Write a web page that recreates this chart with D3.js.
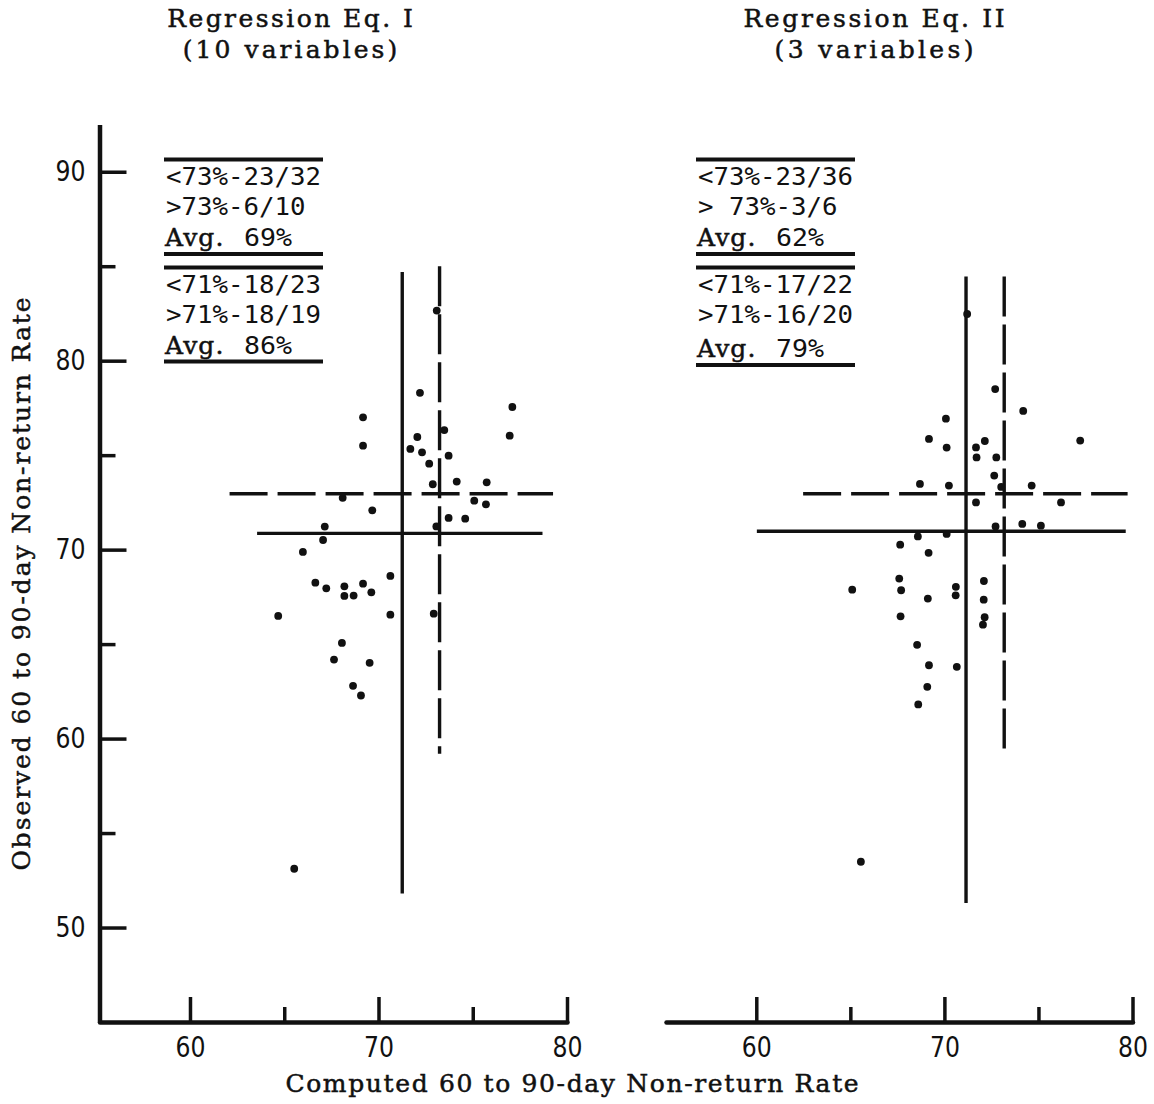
<!DOCTYPE html>
<html>
<head>
<meta charset="utf-8">
<script src="https://cdn.jsdelivr.net/npm/d3@7"></script>
<style>
  body { margin: 0; background: #fff; }
  svg { display: block; }
  .typed { font-family: "DejaVu Serif", "Liberation Serif", serif; font-size: 25px; fill: #111; stroke: #111; stroke-width: 0.5px; }
  .lettered { font-family: "DejaVu Sans Mono", monospace; font-size: 24px; fill: #111; }
  .tick text { font-family: "DejaVu Sans", sans-serif; font-size: 28px; fill: #111; }
</style>
</head>
<body>
<script>
/* global d3 */
(function() {
  'use strict';

  const titles = [['Regression Eq. I', '(10 variables)'], ['Regression Eq. II', '(3 variables)']];
  const xLabel = 'Computed 60 to 90-day Non-return Rate';
  const yLabel = 'Observed 60 to 90-day Non-return Rate';
  const xTickValues = [60, 65, 70, 75, 80];
  const yTickValues = [50, 55, 60, 65, 70, 75, 80, 85, 90];
  const majorTicks = [50, 60, 70, 80, 90];

  // Regression Eq. I points (computed, observed)
  const eq1Computed = [72.2, 77.1, 69.18, 73.49, 72.06, 76.96, 69.18, 71.69, 72.31, 73.72,
    72.69, 72.88, 74.15, 75.74, 68.1, 75.08, 75.7, 69.67, 73.72, 74.6,
    67.15, 73.07, 67.06, 65.99, 66.65, 67.23, 68.19, 69.18, 68.19, 68.68,
    69.62, 70.63, 64.68, 70.63, 72.93, 68.06, 67.64, 69.53, 68.65, 69.07,
    65.53, 73.09];
  const eq1Observed = [78.3, 77.55, 77.0, 76.33, 75.96, 76.03, 75.5, 75.33, 75.15, 74.97,
    74.55, 73.46, 73.6, 73.56, 72.74, 72.59, 72.4, 72.08, 71.68, 71.64,
    71.22, 71.23, 70.51, 69.88, 68.25, 67.95, 68.06, 68.2, 67.55, 67.57,
    67.74, 68.61, 66.49, 66.56, 66.61, 65.06, 64.18, 64.01, 62.79, 62.28,
    53.11, 82.65];

  // Regression Eq. II points (computed, observed)
  const eq2Computed = [72.7, 74.19, 70.08, 69.18, 77.22, 70.12, 72.15, 71.68, 71.71, 72.76,
    72.65, 68.7, 70.24, 74.64, 73.02, 71.68, 76.2, 72.72, 74.14, 75.13,
    68.59, 70.12, 67.65, 69.16, 65.1, 67.6, 67.7, 69.12, 70.61, 70.6,
    72.1, 72.09, 67.67, 72.14, 72.05, 68.55, 69.18, 70.66, 69.09, 68.61,
    65.56, 71.21];
  const eq2Observed = [78.5, 77.34, 76.93, 75.86, 75.77, 75.4, 75.75, 75.41, 74.88, 74.88,
    73.92, 73.48, 73.39, 73.39, 73.32, 72.5, 72.5, 71.23, 71.36, 71.27,
    70.7, 70.83, 70.26, 69.83, 67.88, 68.47, 67.85, 67.41, 68.03, 67.58,
    68.34, 67.35, 66.47, 66.42, 66.03, 64.96, 63.88, 63.8, 62.74, 61.81,
    53.48, 82.47];

  // cut-off lines: [value, from, to] on the other axis; first solid, second dashed
  const eq1VCuts = [[71.26, 51.8, 84.7], [73.24, 59.2, 85.0]];
  const eq1HCuts = [[70.86, 63.56, 78.7], [72.96, 62.1, 79.26]];
  const eq2VCuts = [[71.15, 51.3, 84.46], [73.18, 59.33, 84.46]];
  const eq2HCuts = [[70.97, 60.03, 79.64], [72.96, 62.49, 79.74]];

  // summary boxes: below line, above line, average
  const eq1Stats = [['<73%-23/32', '>73%-6/10', '69%'], ['<71%-18/23', '>71%-18/19', '86%']];
  const eq2Stats = [['<73%-23/36', '> 73%-3/6', '62%'], ['<71%-17/22', '>71%-16/20', '79%']];

  const w = 1154;
  const h = 1104;
  const charW = 15.6; // typewriter pitch

  const svg = d3.select('body')
    .append('svg')
    .attr('width', w)
    .attr('height', h);

  const yScale = d3.scaleLinear().domain([45, 92.5]).range([1022, 124.5]);

  // typewriter-style text, stretched to a fixed pitch
  function typed(parent, str, x, y, anchor) {
    return parent.append('text')
      .attr('class', 'typed')
      .attr('x', x)
      .attr('y', y)
      .attr('text-anchor', anchor || 'start')
      .attr('textLength', str.length * charW - 4)
      .attr('lengthAdjust', 'spacing')
      .text(str);
  }

  function drawPanel(opts) {
    const xScale = d3.scaleLinear().domain([55.2, 80]).range(opts.xRange);
    const g = svg.append('g');

    // x axis, ticks pointing up
    const xAxis = d3.axisBottom(xScale)
      .tickValues(xTickValues)
      .tickSizeInner(-25)
      .tickSizeOuter(0)
      .tickPadding(15)
      .tickFormat((d) => (d % 10 === 0 ? d : ''));
    const gx = g.append('g')
      .attr('transform', 'translate(0,1022)')
      .call(xAxis);
    gx.select('.domain').attr('stroke', '#111').attr('stroke-width', 4.5).attr('stroke-linecap', 'round');
    gx.selectAll('.tick line')
      .attr('stroke', '#111')
      .attr('stroke-width', 3.5)
      .attr('y2', (d) => (d % 10 === 0 ? -25 : -15));
    gx.selectAll('.tick text')
      .filter((d) => d % 10 === 0)
      .attr('textLength', 30)
      .attr('lengthAdjust', 'spacingAndGlyphs');

    if (opts.yAxis) {
      const yAxis = d3.axisLeft(yScale)
        .tickValues(yTickValues)
        .tickSizeInner(-27)
        .tickSizeOuter(0)
        .tickPadding(14)
        .tickFormat((d) => (majorTicks.includes(d) ? d : ''));
      const gy = g.append('g')
        .attr('transform', 'translate(' + opts.xRange[0] + ',0)')
        .call(yAxis);
      gy.select('.domain').attr('stroke', '#111').attr('stroke-width', 4.5);
      gy.selectAll('.tick line')
        .attr('stroke', '#111')
        .attr('stroke-width', 3.5)
        .attr('x2', (d) => (majorTicks.includes(d) ? 27 : 16));
      gy.selectAll('.tick text')
        .filter((d) => majorTicks.includes(d))
        .attr('textLength', 30)
        .attr('lengthAdjust', 'spacingAndGlyphs');
    }

    // cut-off lines
    g.selectAll('line.vcut')
      .data(opts.vCuts)
      .enter()
      .append('line')
      .attr('class', 'vcut')
      .attr('x1', (d) => xScale(d[0]))
      .attr('x2', (d) => xScale(d[0]))
      .attr('y1', (d) => yScale(d[2]))
      .attr('y2', (d) => yScale(d[1]))
      .attr('stroke', '#111')
      .attr('stroke-width', 3.4)
      .attr('stroke-dasharray', (d, i) => (i === 1 ? '40,8' : null));

    g.selectAll('line.hcut')
      .data(opts.hCuts)
      .enter()
      .append('line')
      .attr('class', 'hcut')
      .attr('x1', (d) => xScale(d[1]))
      .attr('x2', (d) => xScale(d[2]))
      .attr('y1', (d) => yScale(d[0]))
      .attr('y2', (d) => yScale(d[0]))
      .attr('stroke', '#111')
      .attr('stroke-width', 3.4)
      .attr('stroke-dasharray', (d, i) => (i === 1 ? '38,10' : null));

    // points
    g.selectAll('circle')
      .data(opts.computed)
      .enter()
      .append('circle')
      .attr('cx', (d) => xScale(d))
      .attr('cy', (d, i) => yScale(opts.observed[i]))
      .attr('r', 3.9)
      .attr('fill', '#111');

    // title
    typed(g, opts.title[0], opts.titleX, 27, 'middle');
    typed(g, opts.title[1], opts.titleX, 58, 'middle');

    // summary boxes
    const bx0 = opts.box[0];
    const bx1 = opts.box[1];
    opts.stats.forEach(function(s, i) {
      const top = i === 0 ? 159.5 : 267.5;
      const bottom = i === 0 ? 254 : opts.lastLine;
      [top, bottom].forEach(function(y) {
        g.append('line')
          .attr('x1', bx0).attr('x2', bx1)
          .attr('y1', y).attr('y2', y)
          .attr('stroke', '#111').attr('stroke-width', 4);
      });
      [s[0], s[1]].forEach(function(str, k) {
        g.append('text')
          .attr('class', 'lettered')
          .attr('x', bx0 + 2)
          .attr('y', top + 25 + k * 30)
          .attr('textLength', str.length * 15.5)
          .attr('lengthAdjust', 'spacingAndGlyphs')
          .text(str);
      });
      typed(g, 'Avg.', bx0 + 1, bottom - 8);
      g.append('text')
        .attr('class', 'lettered')
        .attr('x', bx0 + 80)
        .attr('y', bottom - 8)
        .attr('textLength', 48)
        .attr('lengthAdjust', 'spacingAndGlyphs')
        .text(s[2]);
    });
  }

  drawPanel({
    xRange: [99.5, 567], yAxis: true,
    computed: eq1Computed, observed: eq1Observed,
    vCuts: eq1VCuts, hCuts: eq1HCuts,
    title: titles[0], titleX: 290,
    stats: eq1Stats, box: [164, 323], lastLine: 361.5
  });

  drawPanel({
    xRange: [666, 1132.5], yAxis: false,
    computed: eq2Computed, observed: eq2Observed,
    vCuts: eq2VCuts, hCuts: eq2HCuts,
    title: titles[1], titleX: 874,
    stats: eq2Stats, box: [696, 855], lastLine: 365
  });

  // axis titles
  typed(svg, xLabel, 572, 1092, 'middle');

  typed(svg, yLabel, 0, 0, 'middle')
    .attr('transform', 'translate(30,584) rotate(-90)');
}());
</script>
</body>
</html>
